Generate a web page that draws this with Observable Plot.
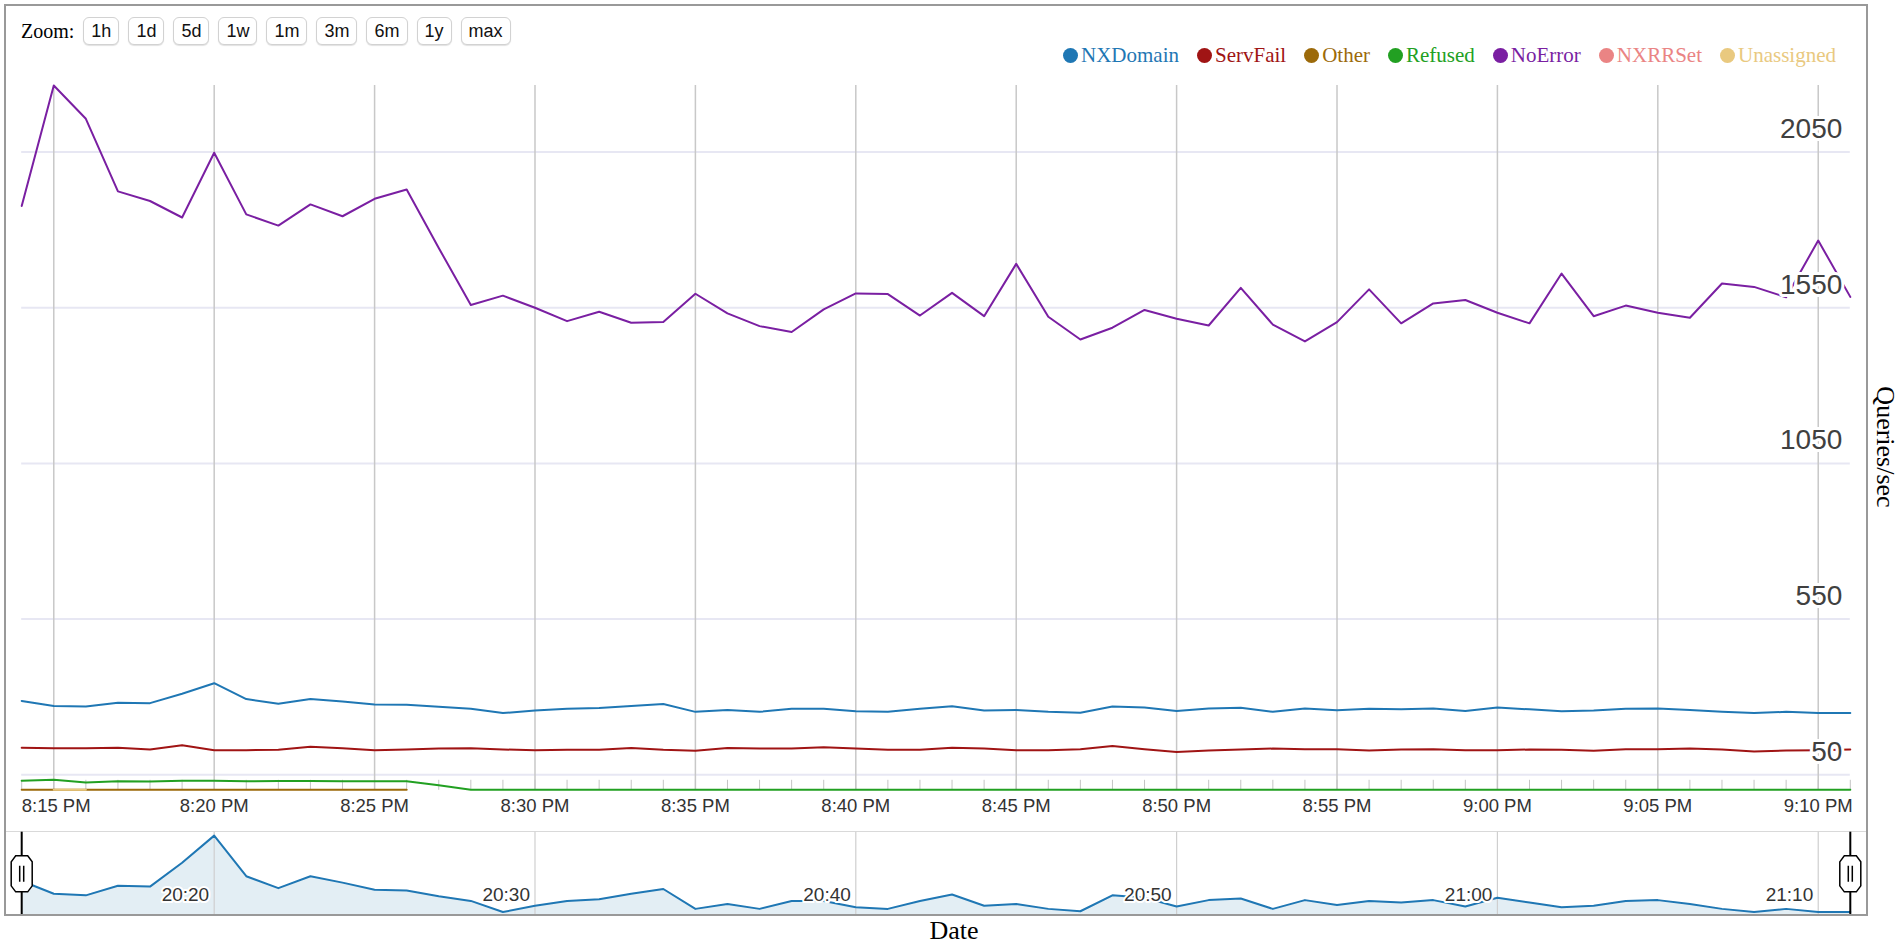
<!DOCTYPE html>
<html>
<head>
<meta charset="utf-8">
<script src="https://cdn.jsdelivr.net/npm/d3@7"></script>
<script src="https://cdn.jsdelivr.net/npm/@observablehq/plot@0.6"></script>
<style>
  html, body { margin: 0; padding: 0; background: #fff; }
  #page { position: relative; width: 1899px; height: 945px; overflow: hidden; font-family: "Liberation Sans", Arial, sans-serif; }
  #frame { position: absolute; left: 4px; top: 4px; width: 1864px; height: 912px; box-sizing: border-box; border: 2px solid #999; pointer-events: none; }
  #ovborder { position: absolute; left: 5px; top: 831px; width: 1862px; height: 1px; background: #d9d9d9; }
  #zoom { position: absolute; left: 21px; top: 17px; height: 28px; display: flex; align-items: center; }
  #zoom .lbl { font-family: "Liberation Serif", "Times New Roman", serif; font-size: 20px; margin-right: 9px; color: #000; }
  #zoom .btn { box-sizing: border-box; height: 28px; padding: 0 7px; margin-right: 9px; border: 1px solid #d2d2d2; border-radius: 6px; background: #fff; font-size: 18px; line-height: 26px; color: #111; box-shadow: 0 1px 1px rgba(0,0,0,0.12); }
  #legend { position: absolute; right: 63px; top: 44px; height: 22px; display: flex; align-items: center; gap: 18px; font-family: "Liberation Serif", "Times New Roman", serif; font-size: 21px; }
  #legend .item { display: flex; align-items: center; white-space: nowrap; }
  #legend .sw { width: 15px; height: 15px; border-radius: 50%; margin-right: 3px; }
  #main { position: absolute; left: 0; top: 70px; }
  #overview { position: absolute; left: 0; top: 820px; }
  #xlabel { position: absolute; left: 0; top: 916px; width: 1908px; text-align: center; font-family: "Liberation Serif", "Times New Roman", serif; font-size: 26px; line-height: 30px; color: #000; }
  #ylabel { position: absolute; left: 1885px; top: 447px; transform: translate(-50%, -50%) rotate(90deg); white-space: nowrap; font-family: "Liberation Serif", "Times New Roman", serif; font-size: 26px; color: #000; }
</style>
</head>
<body>
<div id="page">
  <div id="zoom"></div>
  <div id="legend"></div>
  <div id="main"></div>
  <div id="ovborder"></div>
  <div id="overview"></div>
  <div id="frame"></div>
  <div id="xlabel">Date</div>
  <div id="ylabel">Queries/sec</div>
</div>
<script>
// ---------------- data (one sample per minute, starting at 20:14) ----------------
const startTime = "20:14";

const noError = [
  1877, 2264, 2157, 1924, 1893, 1840, 2048, 1850, 1814, 1882,
  1844, 1900, 1930, 1742, 1559, 1589, 1550, 1507, 1537, 1502,
  1504, 1595, 1532, 1491, 1472, 1545, 1596, 1594, 1525, 1598,
  1523, 1691, 1521, 1448, 1486, 1543, 1515, 1493, 1614, 1496,
  1442, 1504, 1609, 1500, 1564, 1575, 1534, 1500, 1660, 1523,
  1557, 1534, 1518, 1628, 1617, 1584, 1766, 1585
];

const nxDomain = [
  287, 271, 269, 281, 280, 310, 344, 293, 278, 293,
  285, 276, 275, 268, 262, 248, 256, 262, 264, 271,
  277, 252, 258, 252, 262, 262, 254, 252, 262, 270,
  256, 258, 252, 249, 269, 266, 255, 263, 265, 252,
  263, 257, 262, 260, 263, 255, 266, 260, 254, 256,
  262, 263, 258, 252, 248, 252, 248, 248
];

const servFail = [
  137, 135, 135, 137, 131, 145, 129, 129, 130, 140,
  135, 129, 131, 134, 135, 131, 129, 130, 130, 136,
  130, 127, 136, 134, 134, 138, 134, 130, 130, 137,
  134, 129, 129, 132, 142, 132, 123, 128, 131, 134,
  132, 132, 128, 131, 132, 129, 129, 131, 130, 127,
  132, 132, 134, 131, 125, 128, 129, 131
];

const refused = [
  31, 34, 25, 29, 28, 31, 31, 29, 30, 30,
  29, 29, 29, 16, 2, 2, 2, 2, 2, 2,
  2, 2, 2, 2, 2, 2, 2, 2, 2, 2,
  2, 2, 2, 2, 2, 2, 2, 2, 2, 2,
  2, 2, 2, 2, 2, 2, 2, 2, 2, 2,
  2, 2, 2, 2, 2, 2, 2, 2
];

// only reported for the first minutes
const other = [2, 2, 2, 2, 2, 2, 2, 2, 2, 2, 2, 2, 2];
const unassigned = [null, 2, 2];

const seriesNames  = ["NXDomain", "ServFail", "Other", "Refused", "NoError", "NXRRSet", "Unassigned"];
const seriesColors = ["#1f77b4", "#a01414", "#9c6a0a", "#22a022", "#7a1fa2", "#ea8484", "#e9c97f"];

const yTicks = [50, 550, 1050, 1550, 2050];
const xTickTimes  = ["20:15", "20:20", "20:25", "20:30", "20:35", "20:40", "20:45", "20:50", "20:55", "21:00", "21:05", "21:10"];
const xTickLabels = ["8:15 PM", "8:20 PM", "8:25 PM", "8:30 PM", "8:35 PM", "8:40 PM", "8:45 PM", "8:50 PM", "8:55 PM", "9:00 PM", "9:05 PM", "9:10 PM"];
const overviewTickLabels = ["20:20", "20:30", "20:40", "20:50", "21:00", "21:10"];
const zoomButtons = ["1h", "1d", "5d", "1w", "1m", "3m", "6m", "1y", "max"];

// ---------------- helpers ----------------
function toDate(hm) { const [h, m] = hm.split(":").map(Number); return new Date(Date.UTC(2000, 0, 1, h, m)); }
const t0 = toDate(startTime);
const times = noError.map((_, i) => new Date(+t0 + i * 60000));
const tLast = times[times.length - 1];

const seriesData = { Other: other, Unassigned: unassigned, Refused: refused, ServFail: servFail, NXDomain: nxDomain, NoError: noError };
const drawOrder = ["Other", "Unassigned", "Refused", "ServFail", "NXDomain", "NoError"];
const rows = drawOrder.flatMap(s => seriesData[s].map((v, i) => ({ series: s, time: times[i], value: v })));

const xTicks = xTickTimes.map((t, i) => ({ time: toDate(t), label: xTickLabels[i] }));
const ovTicks = overviewTickLabels.map(l => ({ time: toDate(l), label: l }));
const ovRows = nxDomain.map((v, i) => ({ time: times[i], value: v }));

// ---------------- HTML bits: zoom buttons + legend ----------------
const zoomDiv = document.getElementById("zoom");
zoomDiv.innerHTML = '<span class="lbl">Zoom:</span>' + zoomButtons.map(b => `<span class="btn">${b}</span>`).join("");
const legendDiv = document.getElementById("legend");
legendDiv.innerHTML = seriesNames.map((s, i) =>
  `<span class="item"><span class="sw" style="background:${seriesColors[i]}"></span><span style="color:${seriesColors[i]}">${s}</span></span>`).join("");

// ---------------- main chart ----------------
const W = 1899, H = 750, mt = 15, mb = 30.2, ml = 21.2, mr = 49.2;
const font = '"Liberation Sans", Arial, sans-serif';

const main = Plot.plot({
  width: W, height: H,
  marginTop: mt, marginBottom: mb, marginLeft: ml, marginRight: mr,
  style: { background: "transparent", fontFamily: font, overflow: "visible" },
  x: { type: "utc", domain: [t0, tLast], axis: null },
  y: { domain: [0, d3.max(noError)], axis: null },
  color: { domain: seriesNames, range: seriesColors },
  marks: [
    Plot.ruleY(yTicks, { stroke: "#e7e7f3", strokeWidth: 2 }),
    Plot.ruleX(xTicks, { x: "time", stroke: "#c8c8c8", strokeWidth: 1.5 }),
    Plot.ruleX(times, { stroke: "#c4c4c4", strokeWidth: 1, insetTop: H - mt - mb - 10 }),
    Plot.line(rows, { x: "time", y: "value", z: "series", stroke: "series", strokeWidth: 2 }),
    Plot.text(yTicks, { y: d => d, text: d => String(d), frameAnchor: "right", textAnchor: "end", dx: -8, dy: -23,
      fontSize: 28, fill: "#404040", stroke: "white", strokeWidth: 6 }),
    Plot.text(xTicks.slice(1), { x: "time", text: "label", frameAnchor: "bottom", dy: 22, fontSize: 18.5, fill: "#333" }),
    Plot.text(xTicks.slice(0, 1), { x: () => t0, text: "label", frameAnchor: "bottom", textAnchor: "start", dy: 22, fontSize: 18.5, fill: "#333" })
  ]
});
document.getElementById("main").appendChild(main);

// ---------------- overview (range selector) ----------------
const [lo, hi] = d3.extent(nxDomain);
const pad = (hi - lo) * 0.045;
const handleSymbol = {
  draw(ctx) {
    const w = 10.5, h = 18, cx = 4.5, cy = 6;
    ctx.moveTo(-w, -h + cy); ctx.lineTo(-w + cx, -h); ctx.lineTo(w - cx, -h); ctx.lineTo(w, -h + cy);
    ctx.lineTo(w, h - cy); ctx.lineTo(w - cx, h); ctx.lineTo(-w + cx, h); ctx.lineTo(-w, h - cy); ctx.closePath();
    ctx.moveTo(-2, -8); ctx.lineTo(-2, 8);
    ctx.moveTo(2, -8); ctx.lineTo(2, 8);
  }
};

const overview = Plot.plot({
  width: W, height: 100,
  marginTop: 11.7, marginBottom: 5, marginLeft: ml, marginRight: mr,
  style: { background: "transparent", fontFamily: font, overflow: "visible" },
  x: { type: "utc", domain: [t0, tLast], axis: null },
  y: { domain: [lo - pad, hi + pad], axis: null },
  marks: [
    Plot.areaY(ovRows, { x: "time", y1: lo - pad, y2: "value", fill: "#e3eef4" }),
    Plot.ruleX(ovTicks, { x: "time", stroke: "#cfcfcf", strokeWidth: 1.2 }),
    Plot.line(ovRows, { x: "time", y: "value", stroke: "#1f77b4", strokeWidth: 2 }),
    Plot.text(ovTicks, { x: "time", text: "label", frameAnchor: "bottom", textAnchor: "end", dx: -5, dy: -15,
      fontSize: 19, fill: "#333", stroke: "white", strokeWidth: 4 }),
    Plot.ruleX([t0, tLast], { stroke: "#000", strokeWidth: 2 }),
    Plot.dot([t0, tLast], { x: d => d, symbol: handleSymbol, fill: "white", stroke: "#000", strokeWidth: 1.5 })
  ]
});
document.getElementById("overview").appendChild(overview);
</script>
</body>
</html>
